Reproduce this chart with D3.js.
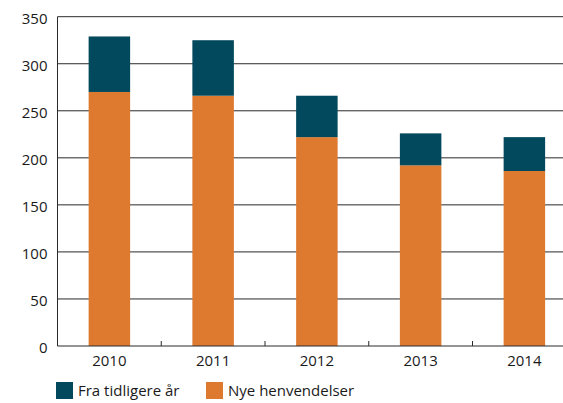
<!DOCTYPE html>
<html>
<head>
<meta charset="utf-8">
<script src="https://cdn.jsdelivr.net/npm/d3@7"></script>
<style>
  body { margin: 0; background: #fff; }
  text { font-family: 'Open Sans', sans-serif; fill: #1a1a1a; }
</style>
</head>
<body>
<script>
// Dados de entrada
var anos = ['2010', '2011', '2012', '2013', '2014']
var nyeHenvendelser = [270, 266, 222, 192, 186]
var fraTidligere = [59, 59, 44, 34, 36]
var yTicks = [0, 50, 100, 150, 200, 250, 300, 350]
var serieNavn = ['Fra tidligere år', 'Nye henvendelser']
var farger = ['#03495e', '#dd7a30']

// empilhando as series (nye embaixo, fra tidligere em cima)
var dados = anos.map(function (a, i) {
  return {ano: a, nye: nyeHenvendelser[i], fra: fraTidligere[i]}
})
var pilha = d3.stack().keys(['nye', 'fra'])(dados)

// dimensões
var largura = 563
var altura = 403
var esquerda = 57.5
var passo = 103.75

var svg = d3.select('body')
            .append('svg')
              .attr('width', largura)
              .attr('height', altura)

// escalas
var x = d3.scaleBand()
          .domain(anos)
          .range([esquerda, esquerda + passo * anos.length])
          .paddingInner(0.6)
          .paddingOuter(0.3)

var y = d3.scaleLinear()
          .domain([0, 350])
          .range([346, 16.7])

// linhas de grade atrás das barras
svg.append('g')
    .selectAll('line')
    .data(yTicks.slice(1))
    .join('line')
      .attr('x1', esquerda)
      .attr('x2', largura)
      .attr('y1', function (d) { return y(d) })
      .attr('y2', function (d) { return y(d) })
      .attr('stroke', '#2a2a2a')
      .attr('stroke-width', 1)

// barras empilhadas
svg.append('g')
    .selectAll('g')
    .data(pilha)
    .join('g')
      .attr('fill', function (d) { return d.key === 'nye' ? farger[1] : farger[0] })
    .selectAll('rect')
    .data(function (d) { return d })
    .join('rect')
      .attr('x', function (d) { return x(d.data.ano) })
      .attr('width', x.bandwidth())
      .attr('y', function (d) { return y(d[1]) })
      .attr('height', function (d) { return y(d[0]) - y(d[1]) })

// eixo y (só texto, linha desenhada à parte)
var eixoY = d3.axisLeft(y)
              .tickValues(yTicks)
              .tickSize(0)
              .tickPadding(10)

svg.append('g')
    .attr('transform', 'translate(' + esquerda + ',0)')
    .call(eixoY)
    .call(function (g) { g.select('.domain').remove() })
    .selectAll('text')
      .attr('font-size', 15)
      .attr('dy', '0.45em')

svg.append('line')
    .attr('x1', esquerda).attr('x2', esquerda)
    .attr('y1', y(350)).attr('y2', y(0))
    .attr('stroke', '#2a2a2a')

// eixo x
var eixoX = d3.axisBottom(x)
              .tickSize(0)
              .tickPadding(9)

svg.append('g')
    .attr('transform', 'translate(0,' + y(0) + ')')
    .call(eixoX)
    .call(function (g) { g.select('.domain').remove() })
    .selectAll('text')
      .attr('font-size', 15)

svg.append('line')
    .attr('x1', esquerda).attr('x2', largura)
    .attr('y1', y(0)).attr('y2', y(0))
    .attr('stroke', '#2a2a2a')

// marcas entre as categorias, para dentro
svg.append('g')
    .selectAll('line')
    .data(anos.slice(1))
    .join('line')
      .attr('x1', function (d) { return x(d) - x.step() * x.paddingInner() / 2 })
      .attr('x2', function (d) { return x(d) - x.step() * x.paddingInner() / 2 })
      .attr('y1', y(0))
      .attr('y2', y(0) - 5)
      .attr('stroke', '#2a2a2a')

// legenda
var legenda = svg.append('g')
                  .attr('transform', 'translate(56,382)')

var posLegenda = [0, 150]
legenda.selectAll('rect')
    .data(serieNavn)
    .join('rect')
      .attr('x', function (d, i) { return posLegenda[i] })
      .attr('width', 17)
      .attr('height', 17)
      .attr('fill', function (d, i) { return farger[i] })

legenda.selectAll('text')
    .data(serieNavn)
    .join('text')
      .attr('x', function (d, i) { return posLegenda[i] + 22 })
      .attr('y', 14)
      .attr('font-size', 15)
      .text(function (d) { return d })
</script>
</body>
</html>
